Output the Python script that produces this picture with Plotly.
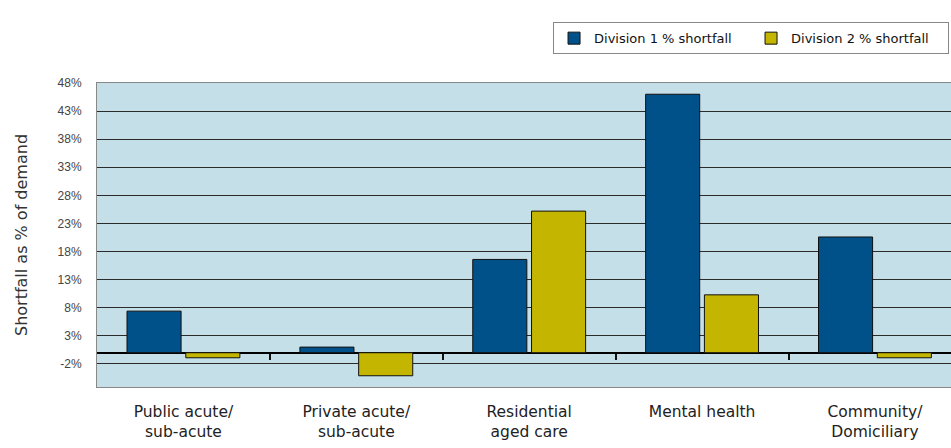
import plotly.graph_objects as go

categories = ["Public acute/<br>sub-acute", "Private acute/<br>sub-acute",
              "Residential<br>aged care", "Mental health", "Community/<br>Domiciliary"]
div1 = [7.4, 1.0, 16.6, 46.0, 20.6]
div2 = [-0.9, -4.1, 25.2, 10.3, -0.9]
series_names = ["Division 1 % shortfall", "Division 2 % shortfall"]
y_ticks = [-2, 3, 8, 13, 18, 23, 28, 33, 38, 43, 48]
y_tick_labels = [f"{v}%" for v in y_ticks]
y_range = [-6.1, 48]
x_range = [-0.5, 4.44]

xpos = list(range(len(categories)))
boundaries = [i + 0.5 for i in xpos[:-1]]

fig = go.Figure()
fig.add_trace(go.Bar(x=xpos, y=div1, name=series_names[0],
                     marker=dict(color="#00518A", line=dict(color="#111111", width=1))))
fig.add_trace(go.Bar(x=xpos, y=div2, name=series_names[1],
                     marker=dict(color="#C3B500", line=dict(color="#111111", width=1))))
# invisible helper trace so the tick-only axis at the zero line is drawn
fig.add_trace(go.Scatter(x=xpos, y=div1, xaxis="x2", yaxis="y", mode="none",
                         showlegend=False, hoverinfo="skip"))

zero_pos = (0 - y_range[0]) / (y_range[1] - y_range[0])

fig.update_layout(
    width=951, height=448,
    margin=dict(l=97, r=0, t=83, b=61),
    paper_bgcolor="white",
    plot_bgcolor="#C4DFE8",
    barmode="group",
    bargap=0.32,
    bargroupgap=0.08,
    font=dict(family="DejaVu Sans, Liberation Sans, Arial", color="#222222"),
    legend=dict(orientation="h", x=0.534, xanchor="left", y=1.2, yanchor="top",
                bordercolor="#888888", borderwidth=1, bgcolor="white",
                entrywidth=152,
                font=dict(size=13, family="DejaVu Sans", color="#111111"),
                traceorder="normal"),
    xaxis=dict(range=x_range, tickmode="array", tickvals=xpos, ticktext=categories,
               showgrid=False, zeroline=False, ticks="",
               showline=True, linecolor="#888888", linewidth=1, mirror=True,
               ticklabelstandoff=10,
               tickfont=dict(size=15.5, family="DejaVu Sans", color="#222222")),
    xaxis2=dict(range=x_range, overlaying="x", anchor="free", position=zero_pos,
                side="bottom", tickmode="array", tickvals=boundaries,
                showticklabels=False, ticks="outside", ticklen=6, tickwidth=1.5,
                tickcolor="#111111", showgrid=False, zeroline=False, showline=False),
    yaxis=dict(range=y_range, tickmode="array", tickvals=y_ticks, ticktext=y_tick_labels,
               showgrid=True, gridcolor="#2b2b2b", gridwidth=1,
               zeroline=True, zerolinecolor="#000000", zerolinewidth=2,
               showline=True, linecolor="#888888", linewidth=1, mirror=True,
               ticks="", ticklabelstandoff=12,
               tickfont=dict(size=12, family="Liberation Sans Narrow, Liberation Sans, Arial", color="#444444"),
               title=dict(text="Shortfall as % of demand", standoff=25,
                          font=dict(size=16, family="DejaVu Sans", color="#333333"))),
)

fig.write_html("out.html")
